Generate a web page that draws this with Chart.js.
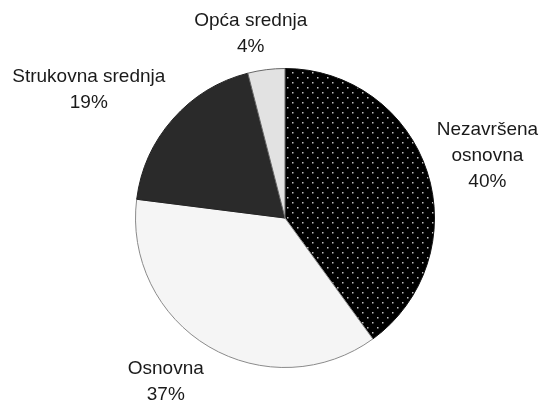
<!DOCTYPE html>
<html>
<head>
<meta charset="utf-8">
<script src="https://cdn.jsdelivr.net/npm/chart.js@4"></script>
<style>
  body { margin: 0; background: #fff; }
  #wrap { width: 539px; height: 402px; }
</style>
</head>
<body>
<div id="wrap"><canvas id="pie" width="539" height="402"></canvas></div>
<script>
// categories, clockwise from 12 o'clock
var categories = [["Nezavršena", "osnovna"], ["Osnovna"], ["Strukovna srednja"], ["Opća srednja"]];
var shares = [40, 37, 19, 4];

function dotPattern() {
    var c = document.createElement("canvas");
    c.width = 10;
    c.height = 10;
    var g = c.getContext("2d");
    g.fillStyle = "#000";
    g.fillRect(0, 0, 10, 10);
    g.fillStyle = "#c4c4c4";
    g.fillRect(2, 2, 1.5, 1.5);
    g.fillRect(7, 7, 1.5, 1.5);
    return g.createPattern(c, "repeat");
}

var LINE_H = 26;
var FONT = "19px 'Liberation Sans', Arial, sans-serif";

// labels outside each slice, pushed away along the slice's middle angle
var outsideLabels = {
    id: "outsideLabels",
    afterDatasetsDraw: function(chart) {
        var ctx = chart.ctx;
        var data = chart.data.datasets[0].data;
        var total = data.reduce((a, b) => a + b);
        var arcs = chart.getDatasetMeta(0).data;
        ctx.save();
        ctx.font = FONT;
        ctx.fillStyle = "#1a1a1a";
        ctx.textAlign = "center";
        ctx.textBaseline = "middle";
        arcs.forEach(function(arc, i) {
            var p = arc.getProps(["x", "y", "startAngle", "endAngle", "outerRadius"], true);
            var mid = (p.startAngle + p.endAngle) / 2;
            var dx = Math.cos(mid), dy = Math.sin(mid);
            var lines = [].concat(chart.data.labels[i]);
            lines.push(Math.round(data[i] / total * 100) + "%");
            var w = Math.max.apply(null, lines.map(function(t) { return ctx.measureText(t).width; }));
            var h = lines.length * LINE_H;
            var r = p.outerRadius + 10;
            var m = Math.max(Math.abs(dx), Math.abs(dy));
            var fx = Math.min(1, 2 * Math.abs(dx) / m) * Math.sign(dx);
            var cx = p.x + r * dx + fx * w / 2;
            var cy = p.y + r * dy + dy / m * h / 2;
            lines.forEach(function(t, j) {
                ctx.fillText(t, cx, cy - h / 2 + LINE_H / 2 + j * LINE_H);
            });
        });
        ctx.restore();
    }
};

new Chart(document.getElementById("pie"), {
    type: "pie",
    data: {
        labels: categories,
        datasets: [{
            data: shares,
            backgroundColor: [dotPattern(), "#f5f5f5", "#2a2a2a", "#e2e2e2"],
            borderColor: ["#111", "#8a8a8a", "#222", "#666"],
            borderWidth: 1
        }]
    },
    options: {
        responsive: false,
        devicePixelRatio: 1,
        animation: false,
        layout: {padding: {left: 135, right: 104, top: 68, bottom: 34}},
        plugins: {
            legend: {display: false},
            tooltip: {enabled: false}
        }
    },
    plugins: [outsideLabels]
});
</script>
</body>
</html>
